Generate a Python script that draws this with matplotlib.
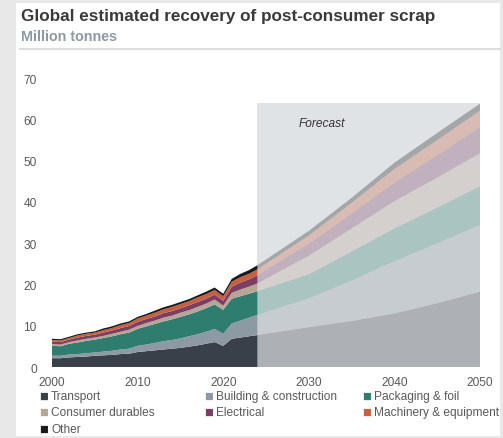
import matplotlib
matplotlib.use("Agg")
import matplotlib.pyplot as plt
import numpy as np
from matplotlib.patches import Rectangle
from matplotlib.lines import Line2D

plt.rcParams["font.family"] = ["Liberation Sans", "DejaVu Sans"]

# historical data (million tonnes per sector)
years_hist = list(range(2000, 2025))
transport = [2.2, 2.2, 2.4, 2.5, 2.6, 2.8, 2.9, 3.0, 3.2, 3.3, 3.7, 3.9, 4.1,
             4.3, 4.5, 4.7, 5.0, 5.3, 5.7, 6.1, 5.2, 6.9, 7.2, 7.5, 7.8]
building = [0.6, 0.6, 0.7, 0.7, 0.8, 0.8, 0.9, 1.0, 1.1, 1.2, 1.5, 1.6, 1.8,
            2.0, 2.1, 2.3, 2.5, 2.7, 2.9, 3.2, 2.9, 3.7, 4.1, 4.5, 4.9]
packaging = [2.4, 2.3, 2.6, 2.8, 3.0, 3.1, 3.3, 3.5, 3.7, 3.9, 4.1, 4.4, 4.6,
             4.8, 5.0, 5.2, 5.3, 5.5, 5.7, 5.9, 5.8, 6.0, 5.9, 5.8, 5.7]
consumer = [0.4, 0.4, 0.4, 0.5, 0.5, 0.5, 0.5, 0.6, 0.6, 0.7, 0.7, 0.8, 0.8,
            0.9, 0.9, 1.0, 1.0, 1.1, 1.1, 1.2, 1.0, 1.4, 1.6, 1.7, 1.9]
electrical = [0.6, 0.6, 0.6, 0.7, 0.7, 0.7, 0.8, 0.8, 0.9, 0.9, 1.0, 1.0, 1.0,
              1.1, 1.1, 1.1, 1.2, 1.2, 1.2, 1.2, 1.2, 1.5, 1.7, 1.8, 2.0]
machinery = [0.4, 0.4, 0.4, 0.5, 0.5, 0.5, 0.6, 0.6, 0.7, 0.7, 0.8, 0.8, 0.9,
             0.9, 1.0, 1.0, 1.0, 1.1, 1.1, 1.1, 1.1, 1.2, 1.3, 1.3, 1.4]
other = [0.3, 0.3, 0.3, 0.3, 0.3, 0.3, 0.4, 0.4, 0.4, 0.4, 0.4, 0.4, 0.5,
         0.5, 0.5, 0.5, 0.5, 0.5, 0.6, 0.6, 0.6, 0.7, 0.8, 0.9, 1.0]

# forecast
years_fc = [2024, 2030, 2035, 2040, 2045, 2050]
transport_fc = [7.8, 9.7, 11.2, 13.0, 15.5, 18.3]
building_fc = [4.9, 7.0, 9.8, 12.7, 14.5, 16.2]
packaging_fc = [5.7, 5.8, 7.0, 7.9, 8.6, 9.3]
consumer_fc = [1.9, 4.5, 5.6, 6.6, 7.3, 8.0]
electrical_fc = [2.0, 2.9, 3.6, 4.5, 5.4, 6.3]
machinery_fc = [1.4, 2.0, 2.6, 3.3, 3.7, 4.0]
other_fc = [1.0, 1.1, 1.2, 1.5, 1.7, 1.7]

labels = ["Transport", "Building & construction", "Packaging & foil",
          "Consumer durables", "Electrical", "Machinery & equipment", "Other"]
colors = ["#3a4049", "#8e9aa3", "#2e7d6e", "#b7a595", "#7b3f63", "#c8603f", "#1a1a1a"]

fig = plt.figure(figsize=(5.03, 4.39), dpi=100)
fig.patch.set_facecolor("#e8e8e8")
fig.patches.append(Rectangle((16 / 503, 2 / 439), 484 / 503, 433 / 439,
                             transform=fig.transFigure, facecolor="white",
                             edgecolor="none", zorder=-5))

fig.text(21 / 503, 1 - 17 / 439, "Global estimated recovery of post-consumer scrap",
         fontsize=12.3, fontweight="bold", color="#3a3a3a", va="center")
fig.text(21 / 503, 1 - 37 / 439, "Million tonnes", fontsize=10.3, fontweight="bold",
         color="#8c9aa6", va="center")
fig.add_artist(Line2D([20 / 503, 500 / 503], [1 - 50 / 439, 1 - 50 / 439],
                      transform=fig.transFigure, color="#dcdcdc", lw=1.5))

ax = fig.add_axes([52 / 503, 1 - 368.3 / 439, 428 / 503, 289.3 / 439])
ax.set_facecolor("none")
ax.set_zorder(2)

ax.axvspan(2024, 2050, ymax=64 / 70, color="#e0e3e6", lw=0, zorder=1)

ax.stackplot(years_hist, transport, building, packaging, consumer, electrical,
             machinery, other, colors=colors, lw=0, zorder=2)
ax.stackplot(years_fc, transport_fc, building_fc, packaging_fc, consumer_fc,
             electrical_fc, machinery_fc, other_fc, colors=colors, alpha=0.3,
             lw=0, zorder=2)

ax.text(2031.5, 59, "Forecast", fontsize=8.6, style="italic", color="#333333",
        ha="center", va="center")

ax.set_xlim(2000, 2050)
ax.set_ylim(0, 70)
ax.set_xticks([2000, 2010, 2020, 2030, 2040, 2050])
ax.set_yticks(range(0, 71, 10))
ax.tick_params(length=0, labelsize=8.6, labelcolor="#595959")
ax.tick_params(axis="y", pad=11)
ax.tick_params(axis="x", pad=6)
for s in ax.spines.values():
    s.set_visible(False)

# legend, laid out in three columns like the original
leg_x = [39, 204, 362]
leg_y = [397, 413, 430]
order = [(0, 0), (1, 0), (2, 0), (0, 1), (1, 1), (2, 1), (0, 2)]
for lab, col, (c, r) in zip(labels, colors, order):
    fig.text(leg_x[c] / 503, 1 - leg_y[r] / 439, "\u25a0", fontsize=10.5, color=col,
             va="center", ha="left")
    fig.text((leg_x[c] + 12) / 503, 1 - leg_y[r] / 439, lab, fontsize=8.6,
             color="#595959", va="center", ha="left")

fig.savefig("out.png", dpi=100)
